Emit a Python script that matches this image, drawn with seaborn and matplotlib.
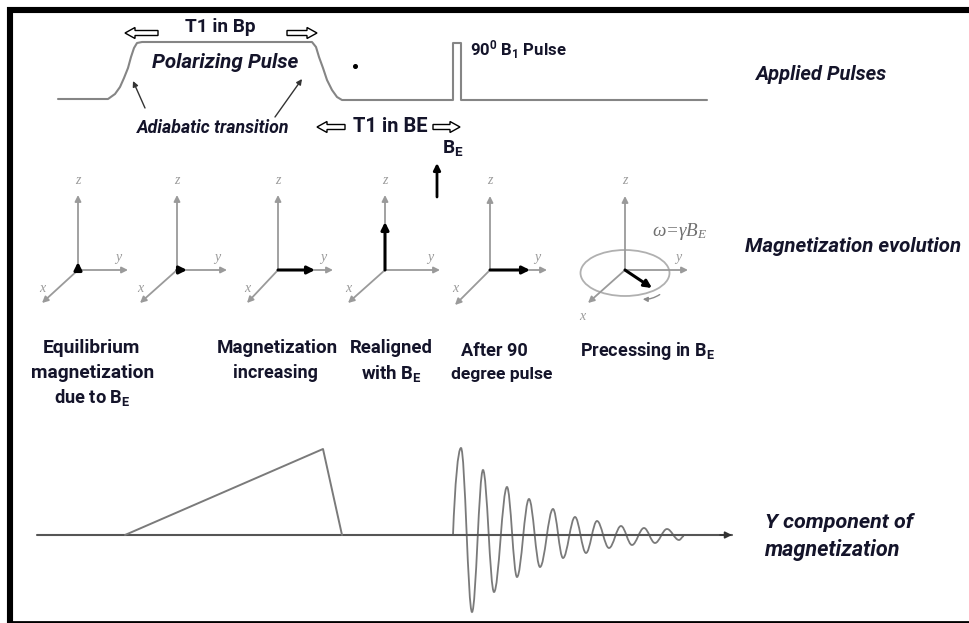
import matplotlib
matplotlib.use("Agg")
import matplotlib.pyplot as plt
import seaborn as sns
import pandas as pd
from matplotlib import font_manager
from matplotlib.patches import FancyArrow, Ellipse, PathPatch, FancyArrowPatch
from matplotlib.path import Path

# ---------------- data (pixel units) ----------------
pulse_x = [58, 108, 115, 120, 124, 128, 131, 134, 137, 142, 312, 316, 319, 323, 327,
           332, 337, 342, 453, 453, 461, 461, 707]
pulse_y = [99, 99, 94, 87, 78, 68, 57, 48, 43, 42, 42, 47, 57, 68, 80,
           90, 97, 100, 100, 43, 43, 100, 100]

ramp_x = [125, 323, 342]
ramp_y = [535, 449, 535]

axis_x = [37, 732]
axis_y = [535, 535]

fid_x = [453, 461, 472, 483, 494, 507, 517, 529, 540, 553, 563, 575, 586, 597, 609,
         621, 632, 644, 655, 667, 679, 684]
fid_y = [535, 448, 612, 470, 592, 487, 577, 499, 567, 509, 558, 517, 553, 521, 548,
         526, 545, 528, 543, 529, 540, 536]

# coordinate frames: origin, axis ends, magnetization vector ends
frame_ox = [78, 177, 278, 385, 490, 625]
frame_oy = [270, 270, 270, 270, 270, 270]
frame_zend = [195, 195, 195, 195, 196, 196]
frame_yend = [128, 227, 333, 440, 547, 688]
frame_xend_x = [42, 140, 247, 348, 455, 588]
frame_xend_y = [303, 303, 303, 303, 305, 303]
vec_end_x = [78, 187, 315, 385, 530, 652]
vec_end_y = [262, 270, 270, 222, 270, 288]

# ---------------- fonts ----------------
sns.set_theme(style="white")
names = {f.name for f in font_manager.fontManager.ttflist}
main_font = "Roboto" if "Roboto" in names else "DejaVu Sans"
serif_font = "Liberation Serif" if "Liberation Serif" in names else "DejaVu Serif"
plt.rcParams["font.family"] = [main_font, "DejaVu Sans"]
plt.rcParams["mathtext.default"] = "regular"

TXT = "#14142a"
GROW = 1.06

fig = plt.figure(figsize=(9.70, 6.23), dpi=100)
ax = fig.add_axes([0, 0, 1, 1])
ax.set_xlim(0, 970)
ax.set_ylim(623, 0)
ax.axis("off")

# ---------------- curves through seaborn ----------------
sns.lineplot(x=pulse_x, y=pulse_y, sort=False, estimator=None, color="#858585",
             lw=1.5, ax=ax)
sns.lineplot(x=axis_x, y=axis_y, sort=False, estimator=None, color="#555555",
             lw=1.5, ax=ax)
sns.lineplot(x=ramp_x, y=ramp_y, sort=False, estimator=None, color="#7a7a7a",
             lw=1.4, ax=ax)

# FID: smooth segments between the read extrema
verts = [(fid_x[0], fid_y[0])]
codes = [Path.MOVETO]
for i in range(1, len(fid_x)):
    x0, y0 = fid_x[i - 1], fid_y[i - 1]
    x1, y1 = fid_x[i], fid_y[i]
    dx = x1 - x0
    if i == 1:
        c1 = (x0 + 0.25 * dx, y0 + 0.6 * (y1 - y0))
    else:
        c1 = (x0 + 0.364 * dx, y0)
    c2 = (x1 - 0.364 * dx, y1)
    verts += [c1, c2, (x1, y1)]
    codes += [Path.CURVE4] * 3
ax.add_patch(PathPatch(Path(verts, codes), fill=False, ec="#7a7a7a", lw=1.3))

ax.set_xlim(0, 970)
ax.set_ylim(623, 0)

# axis arrow head on baseline
ax.annotate("", xy=(axis_x[1], axis_y[1]), xytext=(axis_x[1] - 12, axis_y[1]),
            arrowprops=dict(arrowstyle="-|>", color="#333333", lw=1.2,
                            mutation_scale=10, shrinkA=0, shrinkB=0))

# ---------------- frame ----------------
ax.plot([10, 10], [7, 623], color="black", lw=4.4, solid_capstyle="butt")
ax.plot([7, 970], [10, 10], color="black", lw=4.4, solid_capstyle="butt")
ax.plot([7, 970], [622, 622], color="black", lw=2.0, solid_capstyle="butt")

# ---------------- helpers ----------------
fig.canvas.draw()
renderer = fig.canvas.get_renderer()


def fit(x, y, s, w, ha="center", grow=GROW, **kw):
    kw.setdefault("color", TXT)
    t = ax.text(x, y, s, ha=ha, va="center", fontsize=10, **kw)
    bb = t.get_window_extent(renderer=renderer)
    t.set_fontsize(10 * w * grow / bb.width)
    return t


def hollow(x_tail, x_tip, y):
    ax.add_patch(FancyArrow(x_tail, y, x_tip - x_tail, 0, width=5, head_width=11,
                            head_length=10, length_includes_head=True,
                            fc="white", ec="black", lw=1.0))


def arrow(p0, p1, color, lw, ms):
    ax.annotate("", xy=p1, xytext=p0,
                arrowprops=dict(arrowstyle="-|>", color=color, lw=lw,
                                mutation_scale=ms, shrinkA=0, shrinkB=0))


# ---------------- applied pulses ----------------
fit(220, 27, "T1 in Bp", 67, weight="bold")
hollow(158, 125, 33)
hollow(287, 317, 33)
fit(225, 62, "Polarizing Pulse", 138, weight="bold", style="italic")
ax.plot([355], [66], "o", ms=2.6, color="black")
fit(470, 50, r"90$^0$ B$_1$ Pulse", 92, ha="left", weight="bold")
fit(755, 75, "Applied Pulses", 124, ha="left", weight="bold", style="italic")
fit(213, 128, "Adiabatic transition", 152, weight="bold", style="italic", grow=1.0)
arrow((145, 108), (133, 81), "#333333", 1.0, 8)
arrow((275, 117), (302, 79), "#333333", 1.0, 8)
fit(390, 127, "T1 in BE", 75, weight="bold", grow=1.0)
hollow(345, 317, 127)
hollow(433, 460, 127)
fit(442, 148, r"B$_E$", 21, ha="left", weight="bold")
arrow((437, 197), (437, 163), "black", 2.0, 10)

# ---------------- magnetization evolution ----------------
ax.add_patch(Ellipse((625, 273), 89, 46, fill=False, ec="#b0b0b0", lw=1.3))
for i in range(len(frame_ox)):
    o = (frame_ox[i], frame_oy[i])
    arrow(o, (frame_ox[i], frame_zend[i]), "#9a9a9a", 1.3, 9)
    arrow(o, (frame_yend[i], frame_oy[i]), "#9a9a9a", 1.3, 9)
    arrow(o, (frame_xend_x[i], frame_xend_y[i]), "#9a9a9a", 1.3, 9)
    ax.text(frame_ox[i], 180, "z", family=serif_font, style="italic", fontsize=10,
            color="#9a9a9a", ha="center", va="center")
    ax.text(frame_yend[i] - 10, 258, "y", family=serif_font, style="italic",
            fontsize=10, color="#9a9a9a", ha="center", va="center")
    if i < 5:
        ax.text(frame_xend_x[i], 288, "x", family=serif_font, style="italic",
                fontsize=10, color="#9a9a9a", ha="center", va="center")
    else:
        ax.text(frame_xend_x[i] - 6, 317, "x", family=serif_font, style="italic",
                fontsize=10, color="#9a9a9a", ha="center", va="center")
    arrow(o, (vec_end_x[i], vec_end_y[i]), "black", 2.2, 11)

ax.add_patch(FancyArrowPatch((662, 293), (640, 299), arrowstyle="-|>",
                             connectionstyle="arc3,rad=-0.2", color="#8a8a8a",
                             lw=1.0, mutation_scale=7))
fit(652, 232, r"ω=γB$_E$", 56, ha="left", family=serif_font, style="italic",
    color="#707070", grow=1.0)
fit(745, 246, "Magnetization evolution", 216, ha="left", weight="bold",
    style="italic", grow=1.0)

fit(91, 348, "Equilibrium", 92, weight="bold")
fit(93, 373, "magnetization", 117, weight="bold")
fit(92, 398, r"due to B$_E$", 73, weight="bold")
fit(277, 348, "Magnetization", 115, weight="bold")
fit(275, 373, "increasing", 80, weight="bold")
fit(391, 348, "Realigned", 78, weight="bold")
fit(391, 373, r"with B$_E$", 58, weight="bold")
fit(494, 351, "After 90", 63, weight="bold")
fit(502, 375, "degree pulse", 96, weight="bold")
fit(647, 351, r"Precessing in B$_E$", 128, weight="bold")

# ---------------- y component ----------------
fit(765, 522, "Y component of", 140, ha="left", weight="bold", style="italic")
fit(765, 550, "magnetization", 128, ha="left", weight="bold", style="italic")

fig.savefig("out.png", dpi=100)
